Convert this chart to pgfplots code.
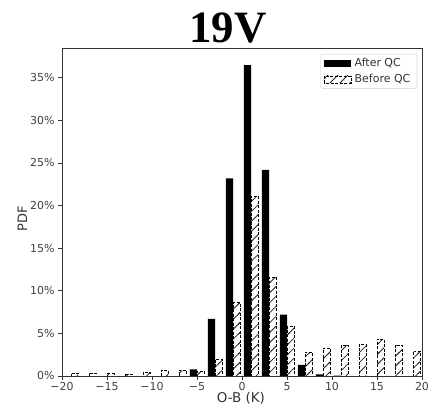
\documentclass[border=0pt]{standalone}
\usepackage{pgfplots}
\pgfplotsset{compat=1.18}
\usepackage{pgfplotstable}
\usepackage{fontspec}
\setmainfont{DejaVu Sans}
\newfontfamily\titlefont{Liberation Serif}
\usetikzlibrary{patterns.meta}

% sparse "/" hatching for the pre-QC histogram
\pgfdeclarepattern{
  name=widehatch,
  type=uncolored,
  bottom left={\pgfpoint{-1pt}{-1pt}},
  top right={\pgfpoint{11pt}{11pt}},
  tile size={\pgfpoint{10pt}{10pt}},
  code={
    \pgfsetdash{}{0pt}
    \pgfsetlinewidth{0.8pt}
    \pgfpathmoveto{\pgfpoint{-1pt}{-1pt}}
    \pgfpathlineto{\pgfpoint{11pt}{11pt}}
    \pgfusepathqstroke
  }
}

% O-B histograms, 2 K bins (bin centre, percent of observations)
\pgfplotstableread{
x    pdf
-5   0.78
-3   6.7
-1   23.2
1    36.5
3    24.2
5    7.2
7    1.3
9    0.2
11   0.05
}\afterqc

\pgfplotstableread{
x    pdf
-19  0.35
-17  0.35
-15  0.28
-13  0.25
-11  0.47
-9   0.62
-7   0.66
-5   0.55
-3   1.95
-1   8.6
1    21.1
3    11.6
5    5.8
7    2.8
9    3.3
11   3.6
13   3.67
15   4.33
17   3.63
19   2.93
}\beforeqc

\begin{document}
\begin{tikzpicture}
\path[use as bounding box] (0,0) rectangle (429bp,413bp);
\node[anchor=base, font=\titlefont\bfseries\fontsize{45}{50}\selectfont] at (228bp,370.5bp) {19V};
\begin{axis}[
  at={(62bp,37bp)}, anchor=south west,
  scale only axis, width=360bp, height=328bp,
  xmin=-20, xmax=20, ymin=0, ymax=38.5,
  axis line style={black!80, line width=0.8pt},
  tick align=outside, xtick pos=bottom, ytick pos=left,
  major tick length=4bp,
  every tick/.style={black!80, line width=0.7pt},
  xtick={-20,-15,...,20},
  xticklabels={−20,−15,−10,−5,0,5,10,15,20},
  ytick={0,5,...,35},
  yticklabels={0\%,5\%,10\%,15\%,20\%,25\%,30\%,35\%},
  tick label style={font=\fontsize{11}{13}\selectfont, text=black!75},
  xticklabel style={yshift=1bp},
  /pgf/number format/assume math mode=true,
  xlabel={O-B (K)}, ylabel={PDF},
  every axis x label/.style={at={(axis description cs:0.497,-0.067)}, anchor=center,
    font=\fontsize{13.5}{15}\selectfont, text=black!80},
  every axis y label/.style={at={(axis description cs:-0.11,0.48)}, anchor=center, rotate=90,
    font=\fontsize{13}{15}\selectfont, text=black!80},
  ybar, bar width=0.8,
  legend style={at={(axis description cs:1,1)}, anchor=north east,
    xshift=-5bp, yshift=-6bp, draw=black!20, rounded corners=2bp,
    font=\fontsize{11}{13}\selectfont, text=black!80,
    inner xsep=3bp, inner ysep=2bp, row sep=2.5bp,
    nodes={inner xsep=3.5bp}},
  legend cell align=left,
]
\addplot[fill=black, draw=none, bar shift=-0.4,
  legend image code/.code={\fill[black, sharp corners] (0bp,-3.5bp) rectangle (27bp,3.5bp);}]
  table[x=x, y=pdf] {\afterqc};
\addlegendentry{After QC}
\addplot[draw=black, dash pattern=on 3pt off 1.5pt, line width=0.7pt,
  pattern=widehatch, pattern color=black!85, bar shift=0.4,
  legend image code/.code={\draw[black, sharp corners, dash pattern=on 3pt off 1.5pt, line width=0.7pt,
    pattern=widehatch, pattern color=black!85] (0bp,-3.5bp) rectangle (27bp,3.5bp);}]
  table[x=x, y=pdf] {\beforeqc};
\addlegendentry{Before QC}
\end{axis}
\end{tikzpicture}
\end{document}
